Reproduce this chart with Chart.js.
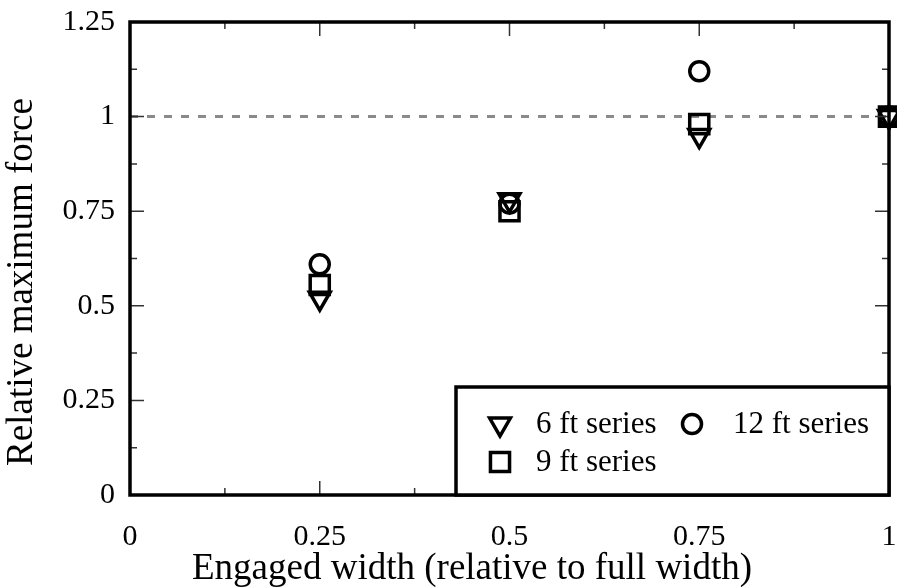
<!DOCTYPE html>
<html>
<head>
<meta charset="utf-8">
<script src="https://cdn.jsdelivr.net/npm/chart.js@4/dist/chart.umd.min.js"></script>
<style>
  html, body { margin: 0; padding: 0; background: #fff; overflow: hidden; }
  canvas { display: block; }
</style>
</head>
<body>
<canvas id="chart" width="897" height="587"></canvas>
<script>
// Datos
const widths       = [0.25, 0.5, 0.75, 1];
const series6ft    = [0.52, 0.78, 0.95, 1.0];
const series9ft    = [0.555, 0.75, 0.98, 1.0];
const series12ft   = [0.61, 0.77, 1.12, 1.0];
const refLineX     = [0, 1];
const refLineY     = [1, 1];
const xTickValues  = [0, 0.25, 0.5, 0.75, 1];
const yTickValues  = [0, 0.25, 0.5, 0.75, 1, 1.25];
const xTitle       = "Engaged width (relative to full width)";
const yTitle       = "Relative maximum force";

const SERIF = '"Liberation Serif", "Times New Roman", Times, serif';
const AREA_RIGHT_GAP = 8;   // el área llega casi al borde derecho

const toPoints = (xs, ys) => xs.map((x, i) => ({ x, y: ys[i] }));

// El label "1" empuja el área hacia dentro; se recoloca el borde derecho
const areaPlugin = {
  id: "areaFix",
  afterLayout(chart) {
    const a = chart.chartArea, x = chart.scales.x;
    const right = chart.width - AREA_RIGHT_GAP;
    a.right = right;
    a.width = right - a.left;
    x.right = right;
    x.width = right - x.left;
    if (typeof x.configure === "function") x.configure();
  },
};

// ── Marco, ticks hacia dentro y títulos ──────────────────────────────────────
const framePlugin = {
  id: "frame",
  afterDatasetsDraw(chart) {
    const { ctx, chartArea: a, scales: { x, y } } = chart;
    ctx.save();
    ctx.strokeStyle = "#333";
    ctx.lineWidth = 1.5;
    const major = 14, minor = 7;
    const tick = (vals, len, isX) => {
      vals.forEach(v => {
        ctx.beginPath();
        if (isX) {
          const px = x.getPixelForValue(v);
          ctx.moveTo(px, a.bottom); ctx.lineTo(px, a.bottom - len);
          ctx.moveTo(px, a.top);    ctx.lineTo(px, a.top + len);
        } else {
          const py = y.getPixelForValue(v);
          ctx.moveTo(a.left, py);  ctx.lineTo(a.left + len, py);
          ctx.moveTo(a.right, py); ctx.lineTo(a.right - len, py);
        }
        ctx.stroke();
      });
    };
    const mids = vals => vals.slice(1).map((v, i) => (v + vals[i]) / 2);
    tick(xTickValues, major, true);
    tick(mids(xTickValues), minor, true);
    tick(yTickValues, major, false);
    tick(mids(yTickValues), minor, false);

    ctx.strokeStyle = "#000";
    ctx.lineWidth = 3.5;
    ctx.strokeRect(a.left, a.top, a.right - a.left, a.bottom - a.top);
    ctx.restore();
  },
  afterDraw(chart) {
    const { ctx } = chart;
    ctx.save();
    ctx.fillStyle = "#000";
    ctx.font = `37px ${SERIF}`;
    ctx.textAlign = "center";
    ctx.textBaseline = "middle";
    ctx.fillText(xTitle, 472, 569);
    ctx.translate(22, 282);
    ctx.rotate(-Math.PI / 2);
    ctx.fillText(yTitle, 0, 0);
    ctx.restore();
  },
};

// ── Leyenda con recuadro dentro del área ────────────────────────────────────
function drawMarker(ctx, ds, x, y) {
  const opts = {
    pointStyle: ds.pointStyle,
    radius: ds.pointRadius,
    rotation: ds.pointRotation || 0,
    borderWidth: ds.pointBorderWidth,
  };
  ctx.save();
  ctx.strokeStyle = "#000";
  ctx.fillStyle = "rgba(0,0,0,0)";
  ctx.lineWidth = ds.pointBorderWidth;
  Chart.helpers.drawPoint(ctx, opts, x, y);
  ctx.restore();
}

const boxLegendPlugin = {
  id: "boxLegend",
  afterDraw(chart) {
    const { ctx, chartArea: a } = chart;
    const left = 456, top = 387;
    ctx.save();
    ctx.fillStyle = "#fff";
    ctx.fillRect(left, top, a.right - left, a.bottom - top);
    ctx.strokeStyle = "#000";
    ctx.lineWidth = 3.5;
    ctx.strokeRect(left, top, a.right - left, a.bottom - top);
    ctx.restore();

    const ds = chart.data.datasets;
    const items = [
      { d: ds[0], mx: 500, tx: 536, y: 424 },
      { d: ds[2], mx: 692, tx: 733, y: 424 },
      { d: ds[1], mx: 500, tx: 536, y: 462 },
    ];
    items.forEach(it => {
      drawMarker(ctx, it.d, it.mx, it.y);
      ctx.save();
      ctx.fillStyle = "#000";
      ctx.font = `31px ${SERIF}`;
      ctx.textAlign = "left";
      ctx.textBaseline = "middle";
      ctx.fillText(it.d.label, it.tx, it.y + 1);
      ctx.restore();
    });
  },
};

const markerBase = {
  type: "scatter",
  borderColor: "#000",
  backgroundColor: "rgba(0,0,0,0)",
  pointBorderColor: "#000",
  pointBackgroundColor: "rgba(0,0,0,0)",
  pointBorderWidth: 3.5,
  pointHoverRadius: 0,
  clip: false,
};

new Chart(document.getElementById("chart"), {
  data: {
    datasets: [
      { ...markerBase, label: "6 ft series", data: toPoints(widths, series6ft),
        pointStyle: "triangle", pointRotation: 180, pointRadius: 12 },
      { ...markerBase, label: "9 ft series", data: toPoints(widths, series9ft),
        pointStyle: "rect", pointRadius: 13.5 },
      { ...markerBase, label: "12 ft series", data: toPoints(widths, series12ft),
        pointStyle: "circle", pointRadius: 9.5 },
      {
        type: "line",
        label: "ref",
        data: toPoints(refLineX, refLineY),
        borderColor: "#8a8a8a",
        borderWidth: 3,
        borderDash: [8, 9],
        pointRadius: 0,
        fill: false,
        order: 5,
      },
    ],
  },
  options: {
    responsive: false,
    animation: false,
    events: [],
    layout: { padding: { top: 22, right: AREA_RIGHT_GAP, left: 0, bottom: 0 } },
    plugins: {
      legend:  { display: false },
      tooltip: { enabled: false },
    },
    scales: {
      x: {
        type: "linear",
        min: 0,
        max: 1,
        grid:   { display: false, drawTicks: false },
        border: { display: false },
        afterBuildTicks: s => { s.ticks = xTickValues.map(v => ({ value: v })); },
        afterFit: s => { s.height = 92; },
        ticks: {
          padding: 24,
          color: "#000",
          font: { family: SERIF, size: 30 },
          maxRotation: 0,
          callback: v => `${v}`,
        },
      },
      y: {
        type: "linear",
        min: 0,
        max: 1.25,
        grid:   { display: false, drawTicks: false },
        border: { display: false },
        afterBuildTicks: s => { s.ticks = yTickValues.map(v => ({ value: v })); },
        afterFit: s => { s.width = 130; s.paddingTop = 0; s.paddingBottom = 0; },
        ticks: {
          padding: 15,
          color: "#000",
          font: { family: SERIF, size: 30 },
          callback: v => `${v}`,
        },
      },
    },
  },
  plugins: [areaPlugin, framePlugin, boxLegendPlugin],
});
</script>
</body>
</html>
